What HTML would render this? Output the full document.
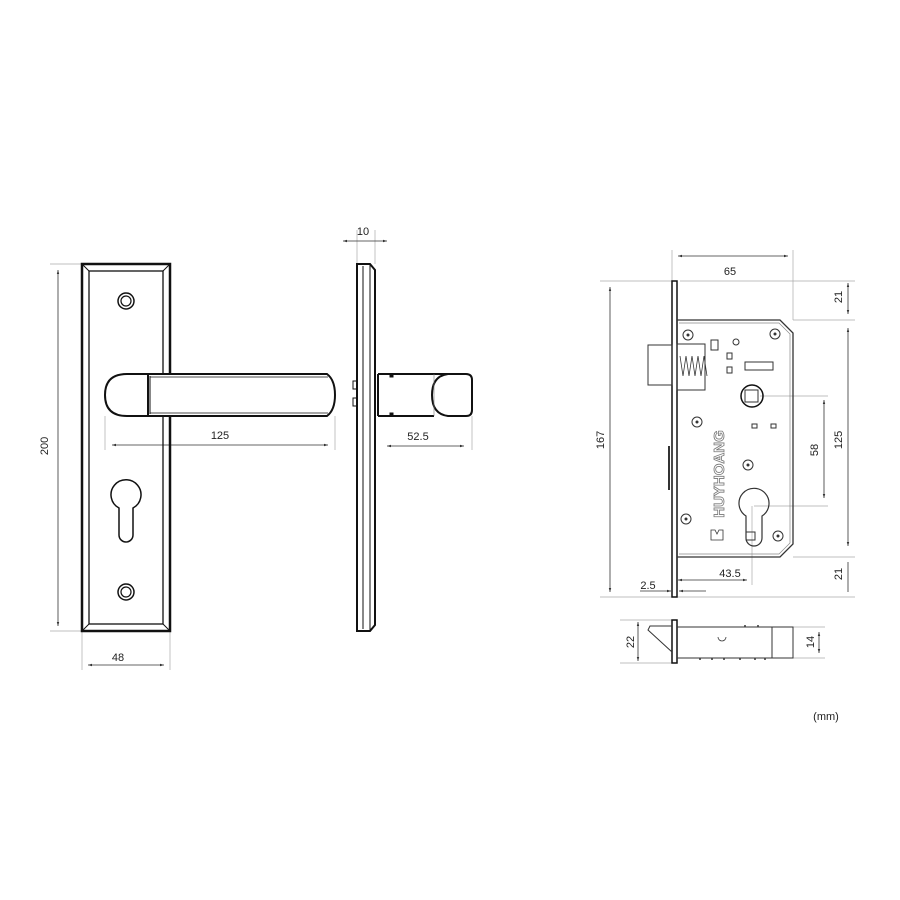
<!DOCTYPE html>
<html><head><meta charset="utf-8"><style>
html,body{margin:0;padding:0;background:#fff}
svg{display:block}
text{font-family:"Liberation Sans",sans-serif;font-size:11px;fill:#222}
</style></head><body>
<svg width="900" height="900" viewBox="0 0 900 900" xmlns="http://www.w3.org/2000/svg">
<defs>
<marker id="a" viewBox="0 0 10 10" refX="10" refY="5" markerWidth="5" markerHeight="5" orient="auto-start-reverse"><path d="M0,2 L10,5 L0,8z" fill="#333"/></marker>
</defs>
<g fill="none" stroke="#aaa" stroke-width="0.7">
<!-- left extension lines -->
<line x1="50" y1="264" x2="82" y2="264"/><line x1="50" y1="631" x2="82" y2="631"/>
<line x1="82" y1="631" x2="82" y2="670"/><line x1="170" y1="631" x2="170" y2="670"/>
<line x1="105" y1="416" x2="105" y2="450"/><line x1="335" y1="416" x2="335" y2="450"/>
<line x1="357" y1="230" x2="357" y2="264"/><line x1="375" y1="230" x2="375" y2="264"/>
<line x1="472" y1="416" x2="472" y2="450"/>
<!-- right -->
<line x1="672" y1="250" x2="672" y2="282"/><line x1="793" y1="250" x2="793" y2="320"/>
<line x1="680" y1="281" x2="855" y2="281"/><line x1="793" y1="320" x2="855" y2="320"/>
<line x1="793" y1="557" x2="855" y2="557"/><line x1="600" y1="597" x2="855" y2="597"/>
<line x1="600" y1="281" x2="672" y2="281"/>
<line x1="760" y1="396" x2="828" y2="396"/><line x1="754" y1="506" x2="828" y2="506"/>
<line x1="752" y1="506" x2="752" y2="585"/>
<line x1="620" y1="620" x2="672" y2="620"/><line x1="620" y1="663" x2="672" y2="663"/>
<line x1="793" y1="627" x2="825" y2="627"/><line x1="793" y1="658" x2="825" y2="658"/>
</g>
<g stroke="#333" stroke-width="0.8" fill="none">
<line x1="58" y1="270" x2="58" y2="626" marker-start="url(#a)" marker-end="url(#a)"/>
<line x1="88" y1="665" x2="164" y2="665" marker-start="url(#a)" marker-end="url(#a)"/>
<line x1="112" y1="445" x2="328" y2="445" marker-start="url(#a)" marker-end="url(#a)"/>
<line x1="343" y1="241" x2="387" y2="241" marker-start="url(#a)" marker-end="url(#a)"/>
<line x1="387" y1="446" x2="464" y2="446" marker-start="url(#a)" marker-end="url(#a)"/>
<line x1="678" y1="256" x2="788" y2="256" marker-start="url(#a)" marker-end="url(#a)"/>
<line x1="610" y1="287" x2="610" y2="592" marker-start="url(#a)" marker-end="url(#a)"/>
<line x1="848" y1="283" x2="848" y2="314" marker-start="url(#a)" marker-end="url(#a)"/>
<line x1="848" y1="328" x2="848" y2="546" marker-start="url(#a)" marker-end="url(#a)"/>
<line x1="824" y1="400" x2="824" y2="498" marker-start="url(#a)" marker-end="url(#a)"/>
<line x1="848" y1="562" x2="848" y2="592"/>
<line x1="678" y1="580" x2="747" y2="580" marker-start="url(#a)" marker-end="url(#a)"/>
<line x1="640" y1="591" x2="671" y2="591" marker-end="url(#a)"/>
<line x1="706" y1="591" x2="679" y2="591" marker-end="url(#a)"/>
<line x1="638" y1="622" x2="638" y2="661" marker-start="url(#a)" marker-end="url(#a)"/>
<line x1="819" y1="632" x2="819" y2="653" marker-start="url(#a)" marker-end="url(#a)"/>
</g>
<g>
<text x="118" y="661" text-anchor="middle">48</text>
<text x="220" y="439" text-anchor="middle">125</text>
<text x="363" y="235" text-anchor="middle">10</text>
<text x="418" y="440" text-anchor="middle">52.5</text>
<text x="730" y="275" text-anchor="middle">65</text>
<text x="730" y="577" text-anchor="middle">43.5</text>
<text x="648" y="589" text-anchor="middle">2.5</text>
<text x="826" y="720" text-anchor="middle">(mm)</text>
<text transform="translate(48,446) rotate(-90)" text-anchor="middle">200</text>
<text transform="translate(604,440) rotate(-90)" text-anchor="middle">167</text>
<text transform="translate(842,297) rotate(-90)" text-anchor="middle">21</text>
<text transform="translate(842,440) rotate(-90)" text-anchor="middle">125</text>
<text transform="translate(818,450) rotate(-90)" text-anchor="middle">58</text>
<text transform="translate(842,574) rotate(-90)" text-anchor="middle">21</text>
<text transform="translate(634,642) rotate(-90)" text-anchor="middle">22</text>
<text transform="translate(814,642) rotate(-90)" text-anchor="middle">14</text>
</g>
<!-- left plate -->
<g stroke="#111" fill="none">
<rect x="82" y="264" width="88" height="367" stroke-width="2.5"/>
<rect x="89" y="271" width="74" height="353" stroke-width="1.3"/>
<path d="M82,264 L89,271 M170,264 L163,271 M82,631 L89,624 M170,631 L163,624" stroke-width="1"/>
<circle cx="126" cy="301" r="8" stroke-width="1.5"/><circle cx="126" cy="301" r="5" stroke-width="1.2"/>
<circle cx="126" cy="592" r="8" stroke-width="1.5"/><circle cx="126" cy="592" r="5" stroke-width="1.2"/>
<path d="M119,508 A15,15 0 1 1 133,508 L133,535 A7,7 0 0 1 119,535 Z" stroke-width="1.5"/>
<path d="M148,374 L327,374 Q335,380 335,395 Q335,410 327,416 L148,416 Z" fill="#fff" stroke-width="2"/>
<path d="M148,374 L127,374 Q105,374 105,395 Q105,416 127,416 L148,416 Z" fill="#fff" stroke-width="2"/>
<line x1="150" y1="376" x2="150" y2="414" stroke-width="1"/>
<line x1="150" y1="377" x2="328" y2="377" stroke-width="0.8"/>
<line x1="150" y1="413" x2="328" y2="413" stroke-width="0.8"/>
<!-- side -->
<path d="M357,264 L370,264 L375,270 L375,625 L370,631 L357,631 Z" stroke-width="2"/>
<line x1="363" y1="266" x2="363" y2="629" stroke-width="1"/>
<line x1="370" y1="264" x2="370" y2="631" stroke-width="1"/>
<rect x="353" y="381" width="4" height="8" stroke-width="1"/>
<rect x="353" y="398" width="4" height="8" stroke-width="1"/>
<path d="M378,374 L434,374 M378,416 L434,416 M378,374 L378,416" stroke-width="2"/>
<path d="M434,374 L466,374 Q472,374 472,380 L472,410 Q472,416 466,416 L448,416 Q432,414 432,395 Q432,376 448,374" stroke-width="2"/>
<line x1="434" y1="374" x2="434" y2="416" stroke-width="0.6" stroke="#777"/>
<rect x="390" y="374" width="3" height="3" fill="#111"/><rect x="390" y="413" width="3" height="3" fill="#111"/>
</g>
<!-- mortise -->
<g stroke="#333" fill="none" stroke-width="1">
<rect x="672" y="281" width="5" height="316" stroke-width="1.5" stroke="#111"/>
<path d="M677,320 L780,320 L793,333 L793,544 L780,557 L677,557" stroke-width="1.3"/>
<path d="M679,323 L779,323 L790,334 L790,543 L779,554 L679,554" stroke-width="0.7" stroke="#888"/>
<rect x="648" y="345" width="24" height="40"/>
<rect x="677" y="344" width="28" height="46"/>
<path d="M680,356 l3,20 l3,-20 l3,20 l3,-20 l3,20 l3,-20 l3,20 l3,-20 l3,20" stroke-width="0.8"/>
<rect x="711" y="340" width="7" height="10"/>
<rect x="727" y="353" width="5" height="6"/><rect x="727" y="367" width="5" height="6"/>
<rect x="745" y="362" width="28" height="8"/>
<circle cx="736" cy="342" r="3"/>
<circle cx="752" cy="396" r="11" stroke-width="1.5" stroke="#111"/>
<rect x="745" y="390" width="13" height="12"/>
<rect x="752" y="424" width="5" height="4"/><rect x="771" y="424" width="5" height="4"/>
<path d="M746,516 A15,15 0 1 1 762,516 L762,538 A8,8 0 0 1 746,538 Z" stroke-width="1.2"/>
<rect x="746" y="532" width="9" height="8"/>
<line x1="669" y1="446" x2="669" y2="490" stroke-width="2"/>
<path d="M711,540 l0,-10 l4,0 l2,4 l2,-4 l4,0 l0,10 z" stroke-width="0.8"/>
</g>
<g fill="#fff" stroke="#333" stroke-width="1">
<circle cx="688" cy="335" r="5"/><circle cx="775" cy="334" r="5"/>
<circle cx="748" cy="465" r="5"/><circle cx="697" cy="422" r="5"/>
<circle cx="686" cy="519" r="5"/><circle cx="778" cy="536" r="5"/>
</g>
<g fill="#333">
<circle cx="688" cy="335" r="1.5"/><circle cx="775" cy="334" r="1.5"/>
<circle cx="748" cy="465" r="1.5"/><circle cx="697" cy="422" r="1.5"/>
<circle cx="686" cy="519" r="1.5"/><circle cx="778" cy="536" r="1.5"/>
</g>
<text transform="translate(724,474) rotate(-90)" text-anchor="middle" style="font-size:15px;font-weight:bold;fill:#fff;stroke:#777;stroke-width:0.8">HUYHOANG</text>
<!-- bottom view -->
<g stroke="#333" fill="none" stroke-width="1">
<rect x="672" y="620" width="5" height="43" stroke-width="1.5" stroke="#111"/>
<path d="M677,627 L793,627 L793,658 L677,658"/>
<line x1="772" y1="627" x2="772" y2="658"/>
<path d="M672,626 L650,626 L648,630 L672,652"/>
<path d="M718,637 a4,4 0 0 0 8,0" stroke-width="0.8"/>
<path d="M700,658 l0,2 M712,658 l0,2 M724,658 l0,2 M740,658 l0,2 M755,658 l0,2 M765,658 l0,2 M745,627 l0,-2 M758,627 l0,-2" stroke-width="1.5"/>
</g>
</svg>
</body></html>
